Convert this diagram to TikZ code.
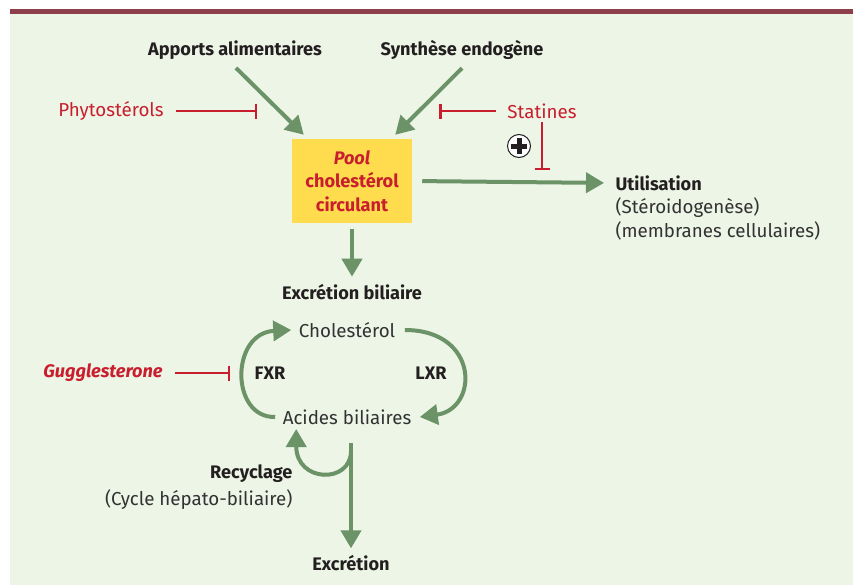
\documentclass[tikz,border=0pt]{standalone}
\usepackage{fontspec}
\setmainfont{Fira Sans}
\usetikzlibrary{arrows.meta,positioning,calc}

\definecolor{panelbg}{RGB}{237,245,230}
\definecolor{barmaroon}{RGB}{142,63,76}
\definecolor{flowgreen}{RGB}{107,147,103}
\definecolor{blockred}{RGB}{200,30,45}
\definecolor{poolyellow}{RGB}{255,220,78}
\definecolor{inkblack}{RGB}{35,31,32}
\definecolor{inkgray}{RGB}{50,50,50}

\begin{document}
\begin{tikzpicture}[x=0.03cm, y=-0.03cm,
boldlabel/.style={inner sep=1mm, text=inkblack, font=\bfseries\fontsize{15.5}{20}\selectfont},
normallabel/.style={inner sep=1mm, text=inkgray, font=\fontsize{16}{20.3}\selectfont},
redlabel/.style={inner sep=1mm, text=blockred, font=\fontsize{16}{20}\selectfont},
poolbox/.style={fill=poolyellow, minimum width=3.6cm, minimum height=2.52cm, align=center, text=blockred, font=\bfseries\fontsize{15.5}{20}\selectfont},
plusnode/.style={circle, draw=inkblack, fill=white, line width=0.3mm, minimum size=6.9mm, inner sep=0pt,
  path picture={\draw[inkblack, line width=1.5mm] ([xshift=-2.4mm]path picture bounding box.center) -- ([xshift=2.4mm]path picture bounding box.center)
  ([yshift=-2.4mm]path picture bounding box.center) -- ([yshift=2.4mm]path picture bounding box.center);}},
flow/.style={draw=flowgreen, line width=1.2mm, -{Triangle[length=5.4mm, width=6mm]}},
block/.style={draw=blockred, line width=0.75mm, -{Bar[width=4.5mm]}},
]
\useasboundingbox (0,0) rectangle (853,585);
\fill[panelbg] (10,14) rectangle (853,585);
\fill[barmaroon] (10,9) rectangle (853,14);

%Nodes
\node[boldlabel]   (apports)  at (235,50)  {Apports alimentaires};
\node[boldlabel]   (synthese) at (462,50)  {Synthèse endogène};
\node[redlabel]    (phyto)    at (111,111) {Phytostérols};
\node[redlabel]    (statines) at (542,111) {Statines};
\node[plusnode]    (plus)     at (519,146) {};
\node[poolbox]     (pool)     at (352,181) {\textit{Pool}\\cholestérol\\circulant};
\node[boldlabel, anchor=west] (util) at (612,183) {Utilisation};
\node[normallabel, align=left] (role) [below=0mm of util.south west, anchor=north west] {(Stéroidogenèse)\\(membranes cellulaires)};
\node[boldlabel]   (excbil)   at (352,292) {Excrétion biliaire};
\node[normallabel] (chol)     at (347,330) {Cholestérol};
\node[normallabel] (acides)   at (347,417) {Acides biliaires};
\node[boldlabel]   (fxr)      at (270,373) {FXR};
\node[boldlabel]   (lxr)      at (431,373) {LXR};
\node[boldlabel, text=blockred, font=\bfseries\itshape\fontsize{15.5}{20}\selectfont] (gugg) at (103,373) {Gugglesterone};
\node[boldlabel, anchor=east] (recyc) at (296,474) {Recyclage};
\node[normallabel] (cycle) [below=0mm of recyc.south east, anchor=north east] {(Cycle hépato-biliaire)};
\node[boldlabel]   (excr)     at (351,563) {Excrétion};

\coordinate (phytobar) at (257,111);
\coordinate (synthbar) at (439,111);
\coordinate (utilbar)  at (542,170);
\coordinate (guggbar)  at (230,373);
\coordinate (fork)     at (351,443);

%Lines
\draw[flow] ($(apports.south)+(1,5)$) -- ($(pool.north west)+(12,-4)$);
\draw[flow] ($(synthese.south)+(0,5)$) -- ($(pool.north east)+(-17,-4)$);
\draw[block, shorten <=2.7mm] (phyto.east) -- (phytobar);
\draw[block, shorten <=2.4mm] (statines.west) -- (synthbar);
\draw[block] (statines.south) -- (utilbar);
\draw[flow, shorten <=3mm, shorten >=2.4mm] (pool.east) -- (util.west);
\draw[flow, shorten <=1.8mm, shorten >=1.2mm] (pool.south) -- (excbil.north);

\draw[flow] ($(acides.west)+(-4,0)$) .. controls +(-45,1) and +(-61,3) .. ($(chol.west)+(-4,0)$);
\draw[flow] ($(chol.east)+(6,0)$) .. controls +(75,0) and +(59,-8) .. ($(acides.east)+(5,0)$);
\draw[block, shorten <=2.7mm] (gugg.east) -- (guggbar);

\draw[flow] ($(fork)+(0,8)$) .. controls +(0,33) and +(0,54) .. ($(acides.south west)+(17,1)$);
\draw[flow, shorten >=1mm] (fork) -- (excr.north);
\end{tikzpicture}
\end{document}
